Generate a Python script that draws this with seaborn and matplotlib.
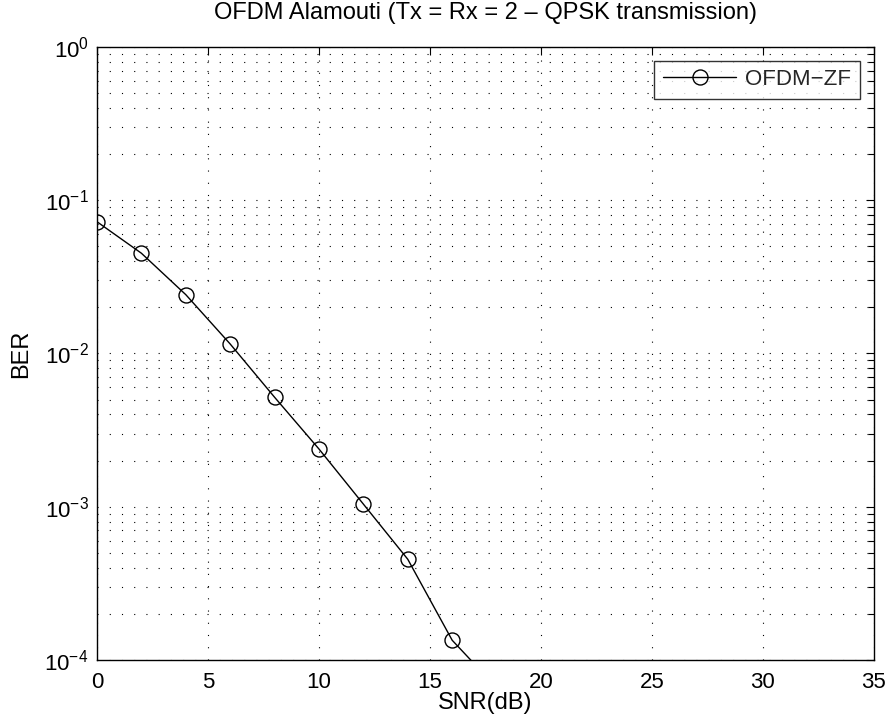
import matplotlib
matplotlib.use("Agg")
import matplotlib.pyplot as plt
import seaborn as sns
import numpy as np
import pandas as pd
from matplotlib.ticker import LogLocator, NullFormatter, MultipleLocator

snr_db = [0, 2, 4, 6, 8, 10, 12, 14, 16, 18]
ber = [0.0724, 0.0451, 0.0242, 0.01153, 0.00518, 0.00238, 0.00104, 4.54e-4, 1.345e-4, 6.6e-5]
series_name = "OFDM\u2212ZF"
title = "OFDM Alamouti (Tx = Rx = 2 \u2013 QPSK transmission)"

df = pd.DataFrame({"SNR": snr_db, "BER": ber})

sns.set_theme(style="white")
plt.rcParams['font.family'] = ['Liberation Sans', 'DejaVu Sans']
plt.rcParams['mathtext.fontset'] = 'custom'
plt.rcParams['mathtext.rm'] = 'Liberation Sans'
plt.rcParams['mathtext.it'] = 'Liberation Sans'

fig = plt.figure(figsize=(8.93, 7.25), dpi=100)
ax = fig.add_axes([0.1086, 0.0897, 0.8701, 0.8455])

sns.lineplot(data=df, x="SNR", y="BER", ax=ax, color="black", linewidth=1.0,
             marker="o", markersize=10.8, markerfacecolor="none",
             markeredgecolor="black", markeredgewidth=1.0, label=series_name)

ax.set_yscale("log")
ax.set_xlim(0, 35)
ax.set_ylim(1e-4, 1)
ax.xaxis.set_major_locator(MultipleLocator(5))
ax.yaxis.set_major_locator(LogLocator(base=10, numticks=10))
ax.yaxis.set_minor_locator(LogLocator(base=10, subs=np.arange(2, 10), numticks=20))
ax.yaxis.set_minor_formatter(NullFormatter())

dots = (0, (1, 10))
ax.grid(True, which="major", linestyle=dots, color="black", linewidth=0.8)
ax.grid(True, which="minor", axis="y", linestyle=dots, color="black", linewidth=0.8)

ax.tick_params(which="both", direction="in", top=True, right=True, color="black",
               labelsize=16, labelcolor="black")
ax.tick_params(which="major", length=5.5, width=0.8)
ax.tick_params(which="minor", length=4.5, width=0.8)
ax.tick_params(axis="x", which="major", pad=9)
ax.tick_params(axis="y", which="major", pad=6)
for s in ax.spines.values():
    s.set_color("black")
    s.set_linewidth(1.0)

ax.set_xlabel("SNR(dB)", fontsize=17, color="black", labelpad=-1)
ax.set_ylabel("BER", fontsize=17, color="black", labelpad=9)
ax.set_title(title, fontsize=17, color="black", pad=20)

leg = ax.legend(loc="upper right", bbox_to_anchor=(0.9815, 0.9775), fontsize=16,
                frameon=True, fancybox=False, edgecolor="black",
                handlelength=3.3, borderaxespad=0.0,
                borderpad=0.38, handletextpad=0.4)
leg.get_frame().set_linewidth(1.0)

fig.savefig("out.png", dpi=100, facecolor="white")
